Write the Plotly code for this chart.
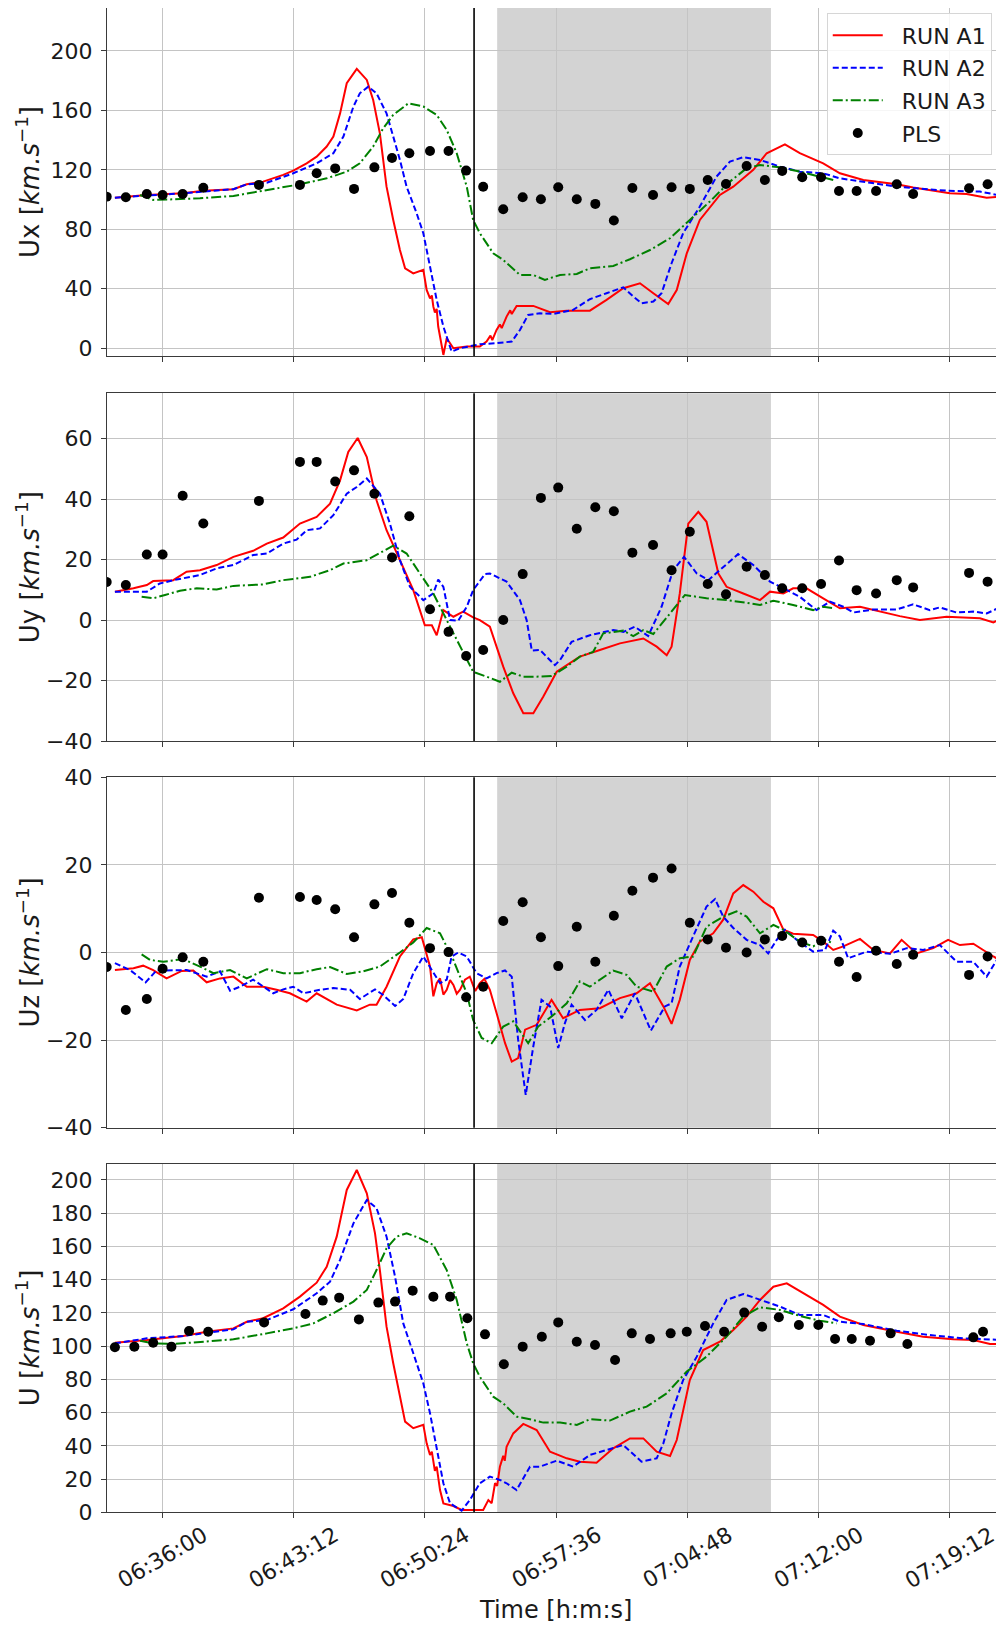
import plotly.graph_objects as go

DAY = "2021-01-01 "

# ---------------- PLS observations (panels Ux, Uy, Uz share times) ----------------
pls_t = ["06:32:57", "06:34:00", "06:35:09", "06:36:01", "06:37:07", "06:38:15", "06:41:18",
         "06:43:33", "06:44:28", "06:45:29", "06:46:31", "06:47:38", "06:48:36", "06:49:33",
         "06:50:41", "06:51:42", "06:52:40", "06:53:36", "06:54:42", "06:55:46", "06:56:46",
         "06:57:43", "06:58:44", "06:59:45", "07:00:46", "07:01:47", "07:02:55", "07:03:56",
         "07:04:56", "07:05:55", "07:06:55", "07:08:03", "07:09:03", "07:10:00", "07:11:06",
         "07:12:08", "07:13:07", "07:14:05", "07:15:09", "07:16:17", "07:17:11", "07:20:15",
         "07:21:16"]
pls_ux = [102, 101.6, 103.8, 103.1, 103.8, 108, 109.9, 109.9, 117.7, 121, 107.2, 121.7, 128,
          131.2, 132.7, 132.7, 119.5, 108.7, 93.5, 101.6, 100.2, 108.3, 100.2, 97.1, 85.9,
          107.8, 103.1, 108.3, 107.2, 113.2, 110.5, 122.6, 113.2, 119.3, 115, 115, 105.8,
          105.8, 105.8, 110.3, 103.8, 107.6, 110.3]
pls_uy = [12.6, 11.6, 21.7, 21.7, 41.1, 31.9, 39.4, 52.3, 52.3, 45.8, 49.5, 41.8, 20.7, 34.3,
          3.6, -3.9, -11.9, -9.9, 0, 15.2, 40.4, 43.8, 30.2, 37.3, 36, 22.3, 24.8, 16.5, 29.2,
          11.9, 8.5, 17.6, 14.9, 10.5, 10.5, 11.9, 19.7, 9.9, 8.8, 13.2, 10.8, 15.6, 12.7]
pls_uz = [-3.3, -13.1, -10.6, -3.7, -1.1, -2.1, 12.5, 12.7, 12, 9.9, 3.5, 11, 13.6, 6.8, 1,
          0.1, -10.2, -7.8, 7.2, 11.5, 3.5, -3.1, 5.9, -2.1, 8.4, 14.1, 17.1, 19.2, 6.8, 3,
          1.1, 0, 3, 3.8, 2.3, 2.7, -2.1, -5.6, 0.4, -2.6, -0.5, -5.1, -0.9]

pls_u_t = ["06:33:24", "06:34:28", "06:35:30", "06:36:30", "06:37:28", "06:38:31", "06:41:35",
           "06:43:51", "06:44:48", "06:45:42", "06:46:47", "06:47:51", "06:48:46", "06:49:44",
           "06:50:52", "06:51:47", "06:52:44", "06:53:42", "06:54:44", "06:55:46", "06:56:49",
           "06:57:43", "06:58:44", "06:59:44", "07:00:50", "07:01:45", "07:02:45", "07:03:53",
           "07:04:46", "07:05:46", "07:06:49", "07:07:55", "07:08:54", "07:09:49", "07:10:55",
           "07:11:59", "07:12:54", "07:13:49", "07:14:49", "07:15:57", "07:16:52", "07:20:29",
           "07:21:01", "07:22:02"]
pls_u = [99.3, 99.7, 102.1, 99.7, 109.1, 108.7, 114.3, 119.4, 127.4, 129.2, 116.1, 126.2,
         126.8, 133.4, 129.8, 129.8, 116.8, 107.1, 89.1, 99.7, 105.7, 114.3, 102.7, 100.7,
         91.7, 107.7, 104.3, 107.7, 108.7, 112.1, 108.7, 120.2, 111.7, 117.4, 112.7, 112.7,
         104.3, 104.3, 103.3, 107.7, 101.3, 105.3, 108.7, 105.1]

# ---------------- Ux ----------------
ux_a1_t = ["06:33:24", "06:35:09", "06:37:09", "06:38:15", "06:39:54", "06:40:38", "06:41:32",
           "06:42:38", "06:43:11", "06:43:55", "06:44:28", "06:45:01", "06:45:23", "06:45:45",
           "06:46:07", "06:46:40", "06:47:13", "06:47:34", "06:47:56", "06:48:18", "06:48:40",
           "06:49:02", "06:49:19", "06:49:46", "06:50:19", "06:50:30", "06:50:41", "06:50:47",
           "06:50:52", "06:50:57", "06:51:03", "06:51:08", "06:51:25", "06:51:36", "06:51:58",
           "06:52:42", "06:53:25", "06:53:47", "06:54:00", "06:54:06", "06:54:20", "06:54:31",
           "06:54:37", "06:54:53", "06:55:05", "06:55:10", "06:55:26", "06:56:21", "06:57:16",
           "06:58:11", "06:59:27", "07:00:22", "07:01:17", "07:02:12", "07:02:56", "07:03:45",
           "07:04:13", "07:04:46", "07:05:29", "07:06:35", "07:07:19", "07:08:25", "07:09:09",
           "07:10:09", "07:10:58", "07:12:15", "07:13:10", "07:14:27", "07:16:17", "07:17:11",
           "07:19:12", "07:20:07", "07:21:13", "07:22:05"]
ux_a1 = [101.3, 103.1, 104.3, 106, 107, 110.3, 112.1, 116.6, 119.5, 124.4, 128.9, 135.7, 142.4,
         158, 178.3, 187.9, 180.5, 167, 144.6, 108.7, 86.3, 66.1, 53.8, 50.4, 52.7, 39.2, 33.5,
         35.5, 28, 24, 26.5, 14.6, -4.5, 6.7, 0, 1.1, 1.1, 4.5, 8.5, 5.5, 12.3, 16, 13.5, 21.3,
         25.5, 23, 28.5, 28.5, 24.2, 25.3, 25.3, 32.5, 40.4, 43.7, 37, 29.8, 39.2, 63.9, 86.3,
         103.1, 108.7, 120, 131.2, 137.2, 131.2, 124.4, 117.7, 113.2, 110.3, 108.1, 104.3,
         103.8, 101.3, 102]

ux_a2_t = ["06:33:24", "06:35:09", "06:37:09", "06:39:54", "06:40:38", "06:41:44", "06:43:11",
           "06:44:28", "06:45:23", "06:45:56", "06:46:29", "06:46:50", "06:47:18", "06:47:45",
           "06:48:18", "06:48:40", "06:49:02", "06:49:24", "06:49:57", "06:50:19", "06:50:41",
           "06:51:03", "06:51:25", "06:51:52", "06:52:20", "06:53:03", "06:53:25", "06:54:20",
           "06:55:10", "06:55:37", "06:56:04", "06:56:43", "06:57:27", "06:58:32", "06:59:27",
           "07:00:22", "07:01:17", "07:01:50", "07:02:17", "07:02:56", "07:03:23", "07:03:56",
           "07:04:34", "07:05:29", "07:06:24", "07:07:08", "07:07:52", "07:08:47", "07:09:53",
           "07:10:58", "07:12:15", "07:13:10", "07:14:27", "07:16:17", "07:19:01", "07:20:51",
           "07:22:05"]
ux_a2 = [101.3, 102.5, 104.3, 107, 110.3, 111.4, 117.7, 124.4, 131.2, 142.4, 162.6, 171.5, 176,
         171.5, 158, 142.4, 126.7, 108.7, 90.8, 77.4, 54.9, 32.5, 14.6, -2.2, 0, 1.6, 2.7, 3.4,
         4.5, 12.3, 22.4, 23.5, 23.1, 25.8, 33, 37, 41, 34.8, 30.3, 31.4, 37, 57.2, 77.4, 95.3,
         115.5, 125.6, 128.5, 126.7, 122.2, 118.8, 117.7, 114.3, 112.1, 108.7, 106, 105.4, 102.5]

ux_a3_t = ["06:34:47", "06:35:30", "06:36:36", "06:38:04", "06:39:54", "06:41:44", "06:43:33",
           "06:45:01", "06:46:07", "06:46:50", "06:47:34", "06:48:07", "06:48:40", "06:49:30",
           "06:50:19", "06:51:03", "06:51:36", "06:52:09", "06:52:42", "06:53:03", "06:53:25",
           "06:54:09", "06:54:42", "06:55:37", "06:56:21", "06:56:59", "06:57:49", "06:58:44",
           "06:59:27", "07:00:44", "07:01:39", "07:02:45", "07:03:51", "07:04:56", "07:06:02",
           "07:07:08", "07:08:03", "07:08:47", "07:09:53", "07:10:58", "07:12:48"]
ux_a3 = [103.1, 99.8, 100.2, 100.9, 102.5, 106.5, 110.3, 114.3, 118.8, 124.4, 135.7, 148, 157,
         164.8, 162.6, 157, 146.9, 131.2, 108.7, 86.3, 77.4, 63.9, 59.4, 49.3, 49.3, 46, 49.3,
         50, 53.8, 55.4, 59.9, 66.1, 74, 86.3, 98.7, 112.1, 121.1, 123.3, 121.7, 118.8, 113.2]

# ---------------- Uy ----------------
uy_a1_t = ["06:33:24", "06:34:25", "06:35:09", "06:35:30", "06:36:36", "06:37:20", "06:38:04",
           "06:38:59", "06:39:54", "06:40:59", "06:41:44", "06:42:38", "06:43:33", "06:44:28",
           "06:45:12", "06:45:45", "06:46:12", "06:46:43", "06:47:13", "06:47:45", "06:48:18",
           "06:49:02", "06:49:46", "06:50:24", "06:50:47", "06:51:03", "06:51:25", "06:51:58",
           "06:52:30", "06:53:03", "06:53:25", "06:53:58", "06:54:20", "06:54:42", "06:55:15",
           "06:55:48", "06:56:21", "06:56:54", "06:57:38", "06:58:54", "07:00:00", "07:01:06",
           "07:02:23", "07:03:07", "07:03:40", "07:03:56", "07:04:23", "07:04:51", "07:05:24",
           "07:05:51", "07:06:30", "07:06:57", "07:07:52", "07:08:47", "07:09:20", "07:10:04",
           "07:10:36", "07:11:20", "07:12:15", "07:13:10", "07:14:16", "07:15:22", "07:16:27",
           "07:17:33", "07:19:01", "07:20:51", "07:21:35", "07:22:05"]
uy_a1 = [9.4, 10.5, 11.6, 12.9, 13.2, 16, 16.5, 18.2, 20.9, 22.9, 25.3, 27.3, 31.9, 34.1, 38.5,
         46.2, 55.6, 60.2, 53.9, 39.6, 29.7, 19.8, 9.9, -1.7, -1.7, -5, 3.3, 1.1, 2.8, 0.9, 0,
         -2.2, -8.8, -15.4, -24.2, -30.8, -30.8, -25.3, -17.1, -12.1, -9.9, -7.7, -6.1, -8.8,
         -11.6, -8.8, 8.8, 31.9, 35.8, 32.5, 15.4, 11, 8.8, 6.6, 9.4, 8.8, 10.5, 10.5, 7.2, 3.9,
         4.4, 2.8, 1.3, 0, 1.1, 0.6, -0.8, 0.8]

uy_a2_t = ["06:33:24", "06:35:09", "06:35:52", "06:36:47", "06:38:04", "06:38:59", "06:39:54",
           "06:40:59", "06:41:44", "06:42:38", "06:43:22", "06:43:55", "06:44:39", "06:45:23",
           "06:46:07", "06:46:40", "06:47:13", "06:47:56", "06:48:29", "06:49:02", "06:49:35",
           "06:50:19", "06:50:52", "06:51:08", "06:51:25", "06:51:47", "06:52:14", "06:52:42",
           "06:53:03", "06:53:42", "06:53:58", "06:54:53", "06:55:37", "06:55:59", "06:56:16",
           "06:56:43", "06:57:32", "06:57:49", "06:58:27", "06:59:27", "07:00:44", "07:01:17",
           "07:01:55", "07:02:39", "07:03:23", "07:04:01", "07:04:37", "07:05:19", "07:05:57",
           "07:06:35", "07:07:35", "07:08:25", "07:09:20", "07:10:04", "07:10:58", "07:11:53",
           "07:12:37", "07:13:21", "07:13:54", "07:15:00", "07:16:17", "07:17:11", "07:18:06",
           "07:18:39", "07:19:34", "07:20:29", "07:21:13", "07:22:05"]
uy_a2 = [9.4, 9.4, 12.1, 13.4, 14.9, 17.1, 18.2, 21.5, 22, 25.3, 26.6, 29.7, 30.3, 34.7, 41.8,
         44, 46.8, 41.8, 31.9, 19.8, 11, 6.6, 8.8, 13.4, 11, 0, -0.2, 4.4, 9.9, 15.2, 15.4,
         12.7, 6.6, 0, -10.1, -9.9, -14.9, -13.2, -7.2, -5, -3.3, -3.9, -2.2, -5.3, 4.4, 16.5,
         20.9, 15.4, 13.2, 16.5, 21.8, 18.2, 12.7, 10.5, 7.7, 3.3, 6.1, 4.4, 2.5, 3.5, 3.5, 5.2,
         3.3, 4.2, 2.5, 2.8, 2.2, 4.6]

uy_a3_t = ["06:34:52", "06:35:30", "06:36:09", "06:36:58", "06:37:53", "06:38:59", "06:39:54",
           "06:41:32", "06:42:38", "06:44:06", "06:45:12", "06:45:56", "06:47:13", "06:47:56",
           "06:48:40", "06:49:24", "06:50:08", "06:50:52", "06:51:36", "06:52:20", "06:53:03",
           "06:53:47", "06:54:31", "06:55:10", "06:55:48", "06:56:32", "06:57:21", "06:58:11",
           "06:58:54", "06:59:38", "07:00:11", "07:01:17", "07:01:50", "07:02:23", "07:02:56",
           "07:03:51", "07:04:40", "07:05:51", "07:06:57", "07:08:03", "07:08:47", "07:09:31",
           "07:10:36", "07:11:42", "07:12:15", "07:12:48"]
uy_a3 = [7.7, 7.2, 8.3, 9.7, 10.5, 10.1, 11.3, 11.8, 13.2, 14.3, 16.5, 18.7, 19.8, 22.2, 24.6,
         22, 15.4, 8.8, 0, -8.8, -17.1, -18.7, -20.4, -17.4, -18.7, -18.7, -18.5, -15.4, -12.1,
         -10.5, -4.4, -3.5, -5.3, -3.3, -4.6, 2.2, 8.3, 7.2, 6.6, 5.7, 5, 6.4, 5, 3.3, 4.4, 3.9]

# ---------------- Uz ----------------
uz_a1_t = ["06:33:24", "06:34:25", "06:34:57", "06:35:30", "06:36:14", "06:37:04", "06:37:42",
           "06:38:26", "06:39:10", "06:39:54", "06:40:38", "06:41:32", "06:42:16", "06:43:00",
           "06:43:55", "06:44:28", "06:45:34", "06:46:40", "06:47:23", "06:47:45", "06:48:18",
           "06:49:02", "06:49:46", "06:50:14", "06:50:41", "06:50:52", "06:51:03", "06:51:14",
           "06:51:25", "06:51:36", "06:51:47", "06:51:58", "06:52:09", "06:52:20", "06:52:36",
           "06:52:52", "06:53:10", "06:53:25", "06:53:40", "06:53:58", "06:54:20", "06:54:48",
           "06:55:10", "06:55:31", "06:55:54", "06:56:32", "06:57:21", "06:57:59", "06:58:54",
           "07:00:00", "07:01:06", "07:02:01", "07:02:45", "07:03:29", "07:03:56", "07:04:23",
           "07:04:56", "07:05:29", "07:06:13", "07:06:46", "07:07:19", "07:07:52", "07:08:25",
           "07:08:58", "07:09:31", "07:10:04", "07:10:36", "07:11:42", "07:12:15", "07:12:48",
           "07:13:21", "07:14:16", "07:15:00", "07:15:55", "07:16:33", "07:17:22", "07:18:17",
           "07:19:06", "07:19:45", "07:20:29", "07:21:35", "07:22:05"]
uz_a1 = [-4, -3.6, -3, -4, -5.9, -4.2, -4.1, -6.8, -5.9, -5.5, -7.8, -7.8, -8.5, -9.3, -11.2,
         -9.3, -11.9, -13.2, -11.9, -11.9, -7.8, -0.9, 3, 3.5, -3.2, -10, -7, -5.9, -9.6, -8.5,
         -6.3, -7.4, -9.4, -8.5, -6.2, -5.5, -8.8, -7, -6, -8.5, -13.8, -20.7, -24.9, -24.1,
         -17.6, -16.5, -10.8, -15, -13.1, -12.7, -10.4, -9.3, -7, -12.3, -16.3, -10.8, -1.7,
         2.5, 4.4, 7.5, 13.5, 15.4, 13.9, 11.6, 10.1, 5.2, 4.3, 4, 2.5, 0.6, 1.4, 3.1, 0.6,
         -0.2, 2.9, -0.2, 1, 2.9, 1.7, 2, -0.9, -2.1]

uz_a2_t = ["06:33:24", "06:34:14", "06:35:05", "06:35:42", "06:36:14", "06:37:20", "06:38:26",
           "06:39:10", "06:39:43", "06:40:16", "06:40:59", "06:41:32", "06:42:05", "06:42:38",
           "06:43:11", "06:43:44", "06:44:39", "06:45:23", "06:46:18", "06:46:50", "06:47:40",
           "06:48:07", "06:48:46", "06:49:13", "06:49:46", "06:50:19", "06:50:52", "06:51:14",
           "06:51:36", "06:51:52", "06:52:14", "06:52:42", "06:53:14", "06:53:47", "06:54:20",
           "06:54:48", "06:55:10", "06:55:31", "06:55:56", "06:56:21", "06:56:48", "06:57:16",
           "06:57:43", "06:58:05", "06:58:27", "06:59:11", "06:59:49", "07:00:28", "07:01:12",
           "07:01:55", "07:02:48", "07:03:34", "07:03:56", "07:04:23", "07:05:07", "07:05:51",
           "07:06:19", "07:06:46", "07:07:19", "07:08:03", "07:08:47", "07:09:14", "07:09:42",
           "07:10:09", "07:10:48", "07:11:42", "07:12:21", "07:12:48", "07:13:10", "07:13:37",
           "07:14:38", "07:15:55", "07:16:50", "07:17:44", "07:18:39", "07:19:34", "07:20:29",
           "07:21:13", "07:21:40", "07:22:05"]
uz_a2 = [-2.4, -4, -6.8, -4, -4.1, -4, -5.5, -4.3, -8.7, -7.8, -6.2, -7.8, -9.3, -8.4, -7.8,
         -9.3, -8.5, -8.1, -8.5, -10.6, -8.4, -9.7, -12.2, -10.6, -4.7, -0.9, -4.7, -7, -6.2,
         -0.9, 0, -0.9, -4.7, -5.9, -4.7, -4.1, -5.5, -19.9, -32.5, -21.4, -10.8, -12.3, -21.8,
         -16.1, -11.9, -15.4, -13.1, -8.5, -15, -9.3, -17.8, -12.3, -11.6, -3.2, 3.7, 10.5, 12.2,
         8.2, 5.6, 2.9, 1.7, -0.2, 2.9, 5.2, 2.9, 0.2, 0.6, 5, 3.7, -1.3, 0.2, -0.3, 1, 0.6, 1.7,
         -2.1, -2.1, -5.5, -2.4, 0.2]

uz_a3_t = ["06:34:52", "06:35:20", "06:36:03", "06:37:09", "06:38:04", "06:38:48", "06:39:43",
           "06:40:38", "06:41:44", "06:42:38", "06:43:33", "06:44:28", "06:45:12", "06:46:07",
           "06:47:01", "06:47:56", "06:49:02", "06:49:46", "06:50:30", "06:51:14", "06:51:58",
           "06:52:42", "06:53:03", "06:53:31", "06:54:04", "06:54:42", "06:55:15", "06:56:04",
           "06:56:37", "06:57:21", "06:58:11", "06:58:54", "06:59:27", "07:00:44", "07:01:28",
           "07:02:01", "07:02:56", "07:03:40", "07:04:23", "07:05:07", "07:05:51", "07:06:46",
           "07:07:30", "07:08:03", "07:08:47", "07:09:31", "07:10:04", "07:10:58", "07:11:42",
           "07:12:21", "07:12:48"]
uz_a3 = [-0.4, -1.7, -2.1, -1.5, -3.2, -4.7, -4, -5.9, -3.8, -4.7, -4.7, -3.8, -3.3, -4.9,
         -4.3, -3.2, 0, 2.3, 5.6, 4.4, -1.7, -9.3, -15.4, -19.5, -20.7, -16.9, -15.7, -20.7,
         -16.9, -14.6, -11.6, -6.6, -7.8, -4.1, -5.1, -7.8, -8.9, -3.2, -1.3, -0.9, 5.9, 8.2,
         9.4, 8.2, 4.4, 6.3, 5.2, 2.5, 1.4, 2.9, 2.1]

# ---------------- U ----------------
u_a1_t = ["06:33:24", "06:35:09", "06:37:09", "06:38:26", "06:39:54", "06:40:38", "06:41:32",
          "06:42:38", "06:43:33", "06:44:28", "06:45:01", "06:45:34", "06:46:07", "06:46:40",
          "06:47:13", "06:47:40", "06:47:56", "06:48:18", "06:48:40", "06:49:02", "06:49:19",
          "06:49:46", "06:50:19", "06:50:30", "06:50:41", "06:50:47", "06:50:52", "06:50:57",
          "06:51:03", "06:51:14", "06:51:25", "06:51:58", "06:52:25", "06:53:03", "06:53:36",
          "06:53:53", "06:54:04", "06:54:15", "06:54:22", "06:54:31", "06:54:42", "06:54:47",
          "06:54:53", "06:55:15", "06:55:48", "06:56:32", "06:57:16", "06:58:11", "06:58:54",
          "06:59:49", "07:00:44", "07:01:39", "07:02:23", "07:03:07", "07:03:51", "07:04:13",
          "07:04:56", "07:05:40", "07:06:35", "07:07:19", "07:08:03", "07:08:47", "07:09:31",
          "07:10:15", "07:11:09", "07:12:15", "07:13:10", "07:14:27", "07:16:17", "07:17:44",
          "07:19:23", "07:20:29", "07:21:24", "07:22:05"]
u_a1 = [102.1, 103.7, 106.1, 108.7, 110.7, 114.7, 116.8, 122.8, 129.8, 138.2, 147.8, 165.9,
        194, 206, 192, 167.9, 145.8, 111.7, 89.7, 69.6, 54.6, 50.6, 52.6, 41.5, 34.5, 36.5,
        29.5, 25, 27.5, 13.4, 5.4, 3.8, 1.4, 1.4, 1.4, 7.4, 5.5, 17.5, 16, 27.5, 34, 31, 39.5,
        47.5, 53.2, 49.5, 36.5, 32.5, 30.5, 29.9, 38.5, 44.5, 44.5, 36.5, 33.9, 43.5, 79.6,
        97.7, 102.7, 109.7, 117.8, 127.8, 135.8, 137.8, 131.8, 124.8, 117.8, 112.7, 108.7,
        105.7, 104.1, 103.7, 101.3, 101.3]

u_a2_t = ["06:33:24", "06:35:09", "06:37:09", "06:39:54", "06:40:38", "06:41:44", "06:43:11",
          "06:44:28", "06:45:12", "06:45:45", "06:46:29", "06:47:13", "06:47:45", "06:48:18",
          "06:48:46", "06:49:13", "06:49:57", "06:50:19", "06:50:41", "06:51:03", "06:51:25",
          "06:51:47", "06:52:25", "06:52:52", "06:53:25", "06:53:58", "06:54:31", "06:54:53",
          "06:55:26", "06:56:10", "06:56:43", "06:57:38", "06:58:32", "06:59:27", "07:00:22",
          "07:01:17", "07:02:17", "07:03:07", "07:03:29", "07:03:56", "07:04:34", "07:05:19",
          "07:06:13", "07:06:57", "07:07:52", "07:08:47", "07:09:53", "07:10:58", "07:12:15",
          "07:13:10", "07:14:27", "07:16:17", "07:18:06", "07:19:56", "07:22:05"]
u_a2 = [101.7, 104.7, 106.1, 110.1, 114.7, 115.7, 122.2, 131.8, 138.8, 151.9, 173.9, 188, 183,
        165.9, 141.8, 113.7, 89.7, 77.6, 59.6, 37.5, 17.5, 5.4, 1, 7.4, 17.5, 21.5, 19.5, 17.5,
        13.4, 27.5, 27.5, 31.1, 27.5, 34.5, 37.5, 40.5, 30.5, 32.5, 41.5, 59.6, 79.6, 93.7,
        113.7, 127.8, 131.4, 127.8, 123.8, 118.8, 118.8, 114.7, 113.3, 109.3, 106.7, 104.7,
        103.7]

u_a3_t = ["06:34:47", "06:35:30", "06:36:36", "06:38:04", "06:39:54", "06:41:44", "06:43:11",
          "06:44:17", "06:45:23", "06:46:29", "06:47:13", "06:47:45", "06:48:18", "06:48:51",
          "06:49:24", "06:50:08", "06:50:52", "06:51:36", "06:52:09", "06:52:42", "06:53:03",
          "06:53:25", "06:54:09", "06:54:42", "06:55:26", "06:56:10", "06:56:54", "06:57:49",
          "06:58:44", "06:59:27", "07:00:33", "07:01:39", "07:02:34", "07:03:40", "07:04:46",
          "07:05:51", "07:06:57", "07:07:52", "07:08:47", "07:09:53", "07:10:58", "07:12:04",
          "07:12:59"]
u_a3 = [103.3, 101.7, 101.3, 102.7, 104.1, 107.7, 110.7, 113.7, 119.8, 126.8, 133.8, 145.8,
        158.9, 165.9, 167.9, 164.9, 160.9, 145.8, 127.8, 101.7, 89.7, 81.6, 69.6, 65.6, 57.6,
        56, 54, 54, 52.6, 56, 55.2, 60.6, 63.6, 71.6, 84.7, 93.7, 105.7, 117.8, 123.4, 121.8,
        118.2, 115.3, 113.7]

# ---------------- axes / annotations ----------------
x_start, x_end = "06:32:58", "07:22:10"
tick_times = ["06:36:00", "06:43:12", "06:50:24", "06:57:36", "07:04:48", "07:12:00", "07:19:12"]
event_time = "06:53:06"
shade_start, shade_end = "06:54:22", "07:09:23"


def dt(times):
    return [DAY + t for t in times]


NB = "\u00a0\u00a0"  # small gap between legend symbol and label
runs = [
    ("RUN A1", "#ff0000", "solid"),
    ("RUN A2", "#0000ff", "6px,3px"),
    ("RUN A3", "#008000", "10px,3px,2px,3px"),
]

# the page body adds an 8px offset, so the figure is drawn 8px smaller
panels = [
    dict(title="Ux [<i>km.s</i><sup>−1</sup>]",
         runs=[(ux_a1_t, ux_a1), (ux_a2_t, ux_a2), (ux_a3_t, ux_a3)],
         pls=(pls_t, pls_ux), rng=[-5.2, 228.9], ticks=[0, 40, 80, 120, 160, 200],
         domain=[0.7852, 1.0]),
    dict(title="Uy [<i>km.s</i><sup>−1</sup>]",
         runs=[(uy_a1_t, uy_a1), (uy_a2_t, uy_a2), (uy_a3_t, uy_a3)],
         pls=(pls_t, pls_uy), rng=[-40, 75], ticks=[-40, -20, 0, 20, 40, 60],
         domain=[0.5475, 0.7622]),
    dict(title="Uz [<i>km.s</i><sup>−1</sup>]",
         runs=[(uz_a1_t, uz_a1), (uz_a2_t, uz_a2), (uz_a3_t, uz_a3)],
         pls=(pls_t, pls_uz), rng=[-40, 40], ticks=[-40, -20, 0, 20, 40],
         domain=[0.3088, 0.5251]),
    dict(title="U [<i>km.s</i><sup>−1</sup>]",
         runs=[(u_a1_t, u_a1), (u_a2_t, u_a2), (u_a3_t, u_a3)],
         pls=(pls_u_t, pls_u), rng=[0, 209.6], ticks=list(range(0, 201, 20)),
         domain=[0.0714, 0.2864]),
]

FONT = "DejaVu Sans"
TXT = "#1a1a1a"
GRID = "#c4c4c4"
SPINE = "#3a3a3a"

fig = go.Figure()
layout = dict(
    width=996, height=1620,
    margin=dict(l=99, r=0, t=0, b=0, autoexpand=False),
    paper_bgcolor="white", plot_bgcolor="white",
    font=dict(family=FONT, size=22, color=TXT),
    showlegend=True,
    legend=dict(x=0.8024, xanchor="left", y=0.9967, yanchor="top",
                bgcolor="rgba(255,255,255,0.85)", bordercolor="#d6d6d6", borderwidth=1,
                font=dict(size=22, family=FONT, color=TXT), itemwidth=50,
                traceorder="grouped", tracegroupgap=1),
)
shapes = []
annotations = []

for i, p in enumerate(panels):
    n = "" if i == 0 else str(i + 1)
    xa, ya = "x" + n, "y" + n
    for (name, color, dash), (t, v) in zip(runs, p["runs"]):
        fig.add_trace(go.Scatter(
            x=dt(t), y=v, mode="lines", name=NB + name, legendgroup=name,
            showlegend=(i == 0), line=dict(color=color, width=2, dash=dash),
            xaxis=xa, yaxis=ya, hoverinfo="skip"))
    fig.add_trace(go.Scatter(
        x=dt(p["pls"][0]), y=p["pls"][1], mode="markers", name=NB + "PLS", legendgroup="PLS",
        showlegend=(i == 0), marker=dict(color="black", size=10),
        xaxis=xa, yaxis=ya, hoverinfo="skip"))

    layout["xaxis" + n] = dict(
        domain=[0, 1], anchor=ya, range=[DAY + x_start, DAY + x_end], type="date",
        tickvals=dt(tick_times), showticklabels=False, ticks="outside", ticklen=5,
        tickcolor=SPINE, showgrid=True, gridcolor=GRID, gridwidth=1, zeroline=False,
        showline=True, linecolor=SPINE, linewidth=1.2, mirror=True, automargin=False,
        matches=None if i == 0 else "x")
    layout["yaxis" + n] = dict(
        domain=p["domain"], anchor=xa, range=p["rng"], tickvals=p["ticks"],
        ticks="outside", ticklen=5, tickcolor=SPINE, ticklabelstandoff=4,
        showgrid=True, gridcolor=GRID, gridwidth=1, zeroline=False, automargin=False,
        showline=True, linecolor=SPINE, linewidth=1.2, mirror=False,
        tickfont=dict(size=22, family=FONT, color=TXT))

    shapes.append(dict(type="rect", xref=xa, yref=ya + " domain",
                       x0=DAY + shade_start, x1=DAY + shade_end, y0=0, y1=1,
                       fillcolor="#d3d3d3", line=dict(width=0), layer="below"))
    shapes.append(dict(type="line", xref=xa, yref=ya + " domain",
                       x0=DAY + event_time, x1=DAY + event_time, y0=0, y1=1,
                       line=dict(color="black", width=1.6)))

    annotations.append(dict(
        text=p["title"], xref="paper", yref="paper", x=-0.088,
        y=(p["domain"][0] + p["domain"][1]) / 2, xanchor="center", yanchor="middle",
        textangle=-90, showarrow=False, font=dict(size=26, family=FONT, color=TXT)))

for t in tick_times:
    annotations.append(dict(
        text=t, xref="x4", yref="paper", x=DAY + t, y=0.0438,
        xanchor="center", yanchor="middle", textangle=-30, showarrow=False,
        font=dict(size=22, family=FONT, color=TXT)))

annotations.append(dict(
    text="Time [h:m:s]", xref="paper", yref="paper", x=0.5, y=0.0111,
    xanchor="center", yanchor="middle", showarrow=False,
    font=dict(size=24, family=FONT, color=TXT)))

layout["shapes"] = shapes
layout["annotations"] = annotations
fig.update_layout(**layout)

fig.write_html("out.html")
